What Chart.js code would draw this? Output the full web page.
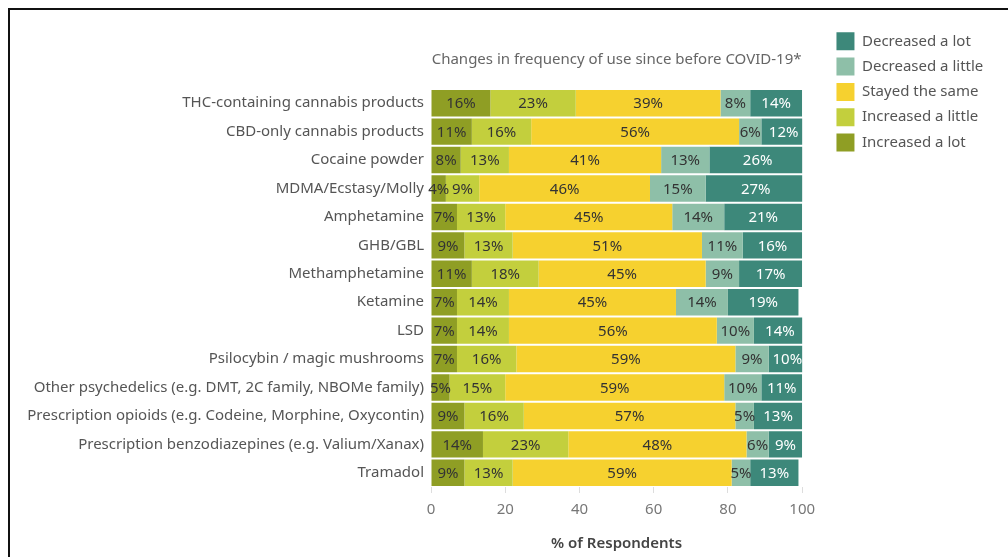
<!DOCTYPE html>
<html>
<head>
<meta charset="utf-8">
<script src="https://cdn.jsdelivr.net/npm/chart.js@4"></script>
<style>
  html, body { margin: 0; padding: 0; background: #fff; }
  #frame {
    position: absolute; left: 8px; top: 8px;
    width: 998px; height: 547px;
    border-top: 2px solid #111; border-left: 2px solid #111;
  }
</style>
</head>
<body>
<div id="frame"><canvas id="useChart" width="998" height="547"></canvas></div>
<script>
const ctx = document.getElementById('useChart');

const substances = [
  'THC-containing cannabis products',
  'CBD-only cannabis products',
  'Cocaine powder',
  'MDMA/Ecstasy/Molly',
  'Amphetamine',
  'GHB/GBL',
  'Methamphetamine',
  'Ketamine',
  'LSD',
  'Psilocybin / magic mushrooms',
  'Other psychedelics (e.g. DMT, 2C family, NBOMe family)',
  'Prescription opioids (e.g. Codeine, Morphine, Oxycontin)',
  'Prescription benzodiazepines (e.g. Valium/Xanax)',
  'Tramadol'
];

const increasedLot    = [16, 11,  8,  4,  7,  9, 11,  7,  7,  7,  5,  9, 14,  9];
const increasedLittle = [23, 16, 13,  9, 13, 13, 18, 14, 14, 16, 15, 16, 23, 13];
const stayedSame      = [39, 56, 41, 46, 45, 51, 45, 45, 56, 59, 59, 57, 48, 59];
const decreasedLittle = [ 8,  6, 13, 15, 14, 11,  9, 14, 10,  9, 10,  5,  6,  5];
const decreasedLot    = [14, 12, 26, 27, 21, 16, 17, 19, 14, 10, 11, 13,  9, 13];

const xTicks = [0, 20, 40, 60, 80, 100];

Chart.defaults.font.family = "'Noto Sans', sans-serif";
Chart.defaults.font.size = 15;
Chart.defaults.color = '#555';

// percent labels in the middle of each segment
const segmentLabels = {
  id: 'segmentLabels',
  afterDatasetsDraw(chart) {
    const c = chart.ctx;
    c.save();
    c.font = "15px 'Noto Sans', sans-serif";
    c.textAlign = 'center';
    c.textBaseline = 'middle';
    chart.data.datasets.forEach((ds, i) => {
      const meta = chart.getDatasetMeta(i);
      meta.data.forEach((bar, j) => {
        const p = bar.getProps(['x', 'y', 'base'], true);
        c.fillStyle = ds.labelColor;
        c.fillText(ds.data[j] + '%', (p.x + p.base) / 2, p.y + 1);
      });
    });
    c.restore();
  }
};

const data = {
  labels: substances,
  datasets: [
    { label: 'Increased a lot', data: increasedLot, backgroundColor: '#8f9e24', labelColor: '#333' },
    { label: 'Increased a little', data: increasedLittle, backgroundColor: '#c3cf3d', labelColor: '#333' },
    { label: 'Stayed the same', data: stayedSame, backgroundColor: '#f6d12f', labelColor: '#333' },
    { label: 'Decreased a little', data: decreasedLittle, backgroundColor: '#8ebfa8', labelColor: '#333' },
    { label: 'Decreased a lot', data: decreasedLot, backgroundColor: '#3d887a', labelColor: '#fff' }
  ]
};

const config = {
  type: 'bar',
  data: data,
  plugins: [segmentLabels],
  options: {
    indexAxis: 'y',
    responsive: false,
    animation: false,
    layout: { padding: { top: 15, left: 10, right: 17, bottom: 4 } },
    datasets: {
      bar: { categoryPercentage: 1, barPercentage: 0.93, clip: 0, borderWidth: 0 }
    },
    scales: {
      x: {
        stacked: true,
        min: 0,
        max: 100,
        afterBuildTicks: (axis) => { axis.ticks = xTicks.map(v => ({ value: v })); },
        grid: { drawOnChartArea: false, drawTicks: true, tickLength: 6, color: '#ddd' },
        border: { display: false },
        ticks: { color: '#777', padding: 8 },
        title: { display: true, text: '% of Respondents', color: '#444', font: { weight: '600' }, padding: { top: 8, bottom: 0 } }
      },
      y: {
        stacked: true,
        grid: { display: false, drawTicks: false },
        border: { display: false },
        ticks: { color: '#555', padding: 7, autoSkip: false },
        afterFit: (axis) => { axis.width = 411; }
      },
      // empty spacer between the bars and the legend
      gap: {
        axis: 'y',
        position: 'right',
        grid: { display: false },
        border: { display: false },
        ticks: { display: false },
        afterFit: (axis) => { axis.width = 27; }
      }
    },
    plugins: {
      title: {
        display: true,
        fullSize: false,
        text: 'Changes in frequency of use since before COVID-19*',
        color: '#666',
        font: { size: 15, weight: 'normal' },
        padding: { top: 26, bottom: 20 }
      },
      legend: {
        position: 'right',
        align: 'start',
        reverse: true,
        labels: { boxWidth: 18, boxHeight: 18, padding: 7.3, color: '#555' }
      },
      tooltip: { enabled: false }
    }
  }
};

new Chart(ctx, config);
</script>
</body>
</html>
